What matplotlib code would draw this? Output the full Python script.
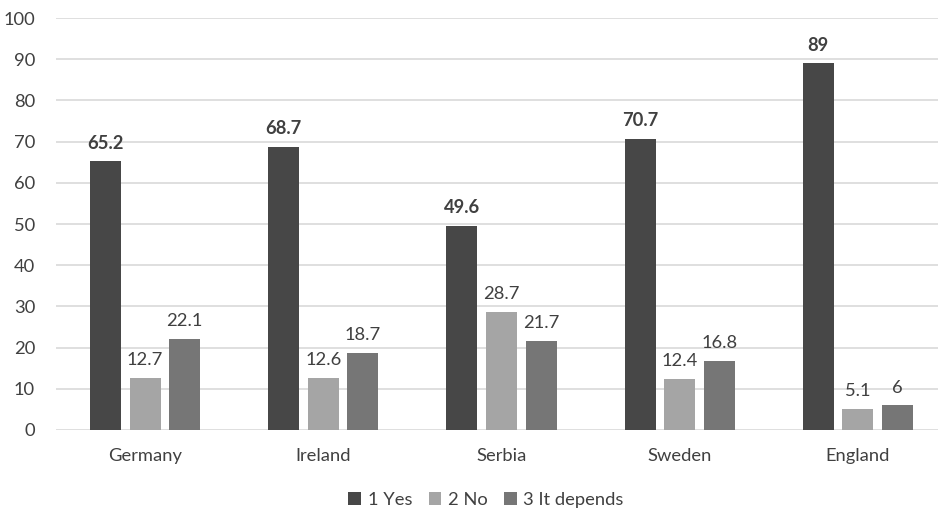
import matplotlib
matplotlib.use("Agg")
import matplotlib.pyplot as plt
import numpy as np

categories = ["Germany", "Ireland", "Serbia", "Sweden", "England"]
series_names = ["1 Yes", "2 No", "3 It depends"]
yes = [65.2, 68.7, 49.6, 70.7, 89]
no = [12.7, 12.6, 28.7, 12.4, 5.1]
depends = [22.1, 18.7, 21.7, 16.8, 6]
label_yes = ["65.2", "68.7", "49.6", "70.7", "89"]
label_no = ["12.7", "12.6", "28.7", "12.4", "5.1"]
label_dep = ["22.1", "18.7", "21.7", "16.8", "6"]
yticks = [0, 10, 20, 30, 40, 50, 60, 70, 80, 90, 100]

colors = ["#474747", "#a5a5a5", "#767676"]
text_color = "#404040"
plt.rcParams['font.family'] = ['Lato', 'DejaVu Sans']

W, H = 938, 511
fig = plt.figure(figsize=(W/100, H/100), dpi=100)
left, right = 56, 947
top, bottom = 18, 430
ax = fig.add_axes([left/W, 1 - bottom/H, (right-left)/W, (bottom-top)/H])

x = np.arange(len(categories))
step = 0.222
width = 0.174
fs = 13.2
series = [yes, no, depends]
labels = [label_yes, label_no, label_dep]
bars = []
for i, (vals, labs) in enumerate(zip(series, labels)):
    b = ax.bar(x + (i-1)*step, vals, width, color=colors[i], label=series_names[i], zorder=3)
    bars.append(b)
    for rect, lab in zip(b, labs):
        ax.annotate(lab, (rect.get_x()+rect.get_width()/2, rect.get_height()),
                    xytext=(0, 7), textcoords="offset points", ha="center", va="bottom",
                    fontsize=fs, color=text_color,
                    fontweight="bold" if i == 0 else "normal", zorder=4)

ax.set_xlim(-0.5, len(categories)-0.5)
ax.set_ylim(0, 100)
ax.set_yticks(yticks)
ax.set_yticklabels([str(t) for t in yticks])
ax.set_xticks(x)
ax.set_xticklabels(categories)
ax.tick_params(axis="both", length=0, labelsize=fs, colors=text_color)
ax.tick_params(axis="y", pad=15)
ax.tick_params(axis="x", pad=13)
ax.grid(axis="y", color="#d9d9d9", linewidth=1.2, zorder=0)
for s in ax.spines.values():
    s.set_visible(False)

leg = fig.legend(handles=bars, labels=series_names, loc="center", bbox_to_anchor=(486/W, 1-500/H),
                 ncol=3, frameon=False, fontsize=fs, handlelength=0.7, handleheight=0.7,
                 handletextpad=0.35, columnspacing=0.9, labelcolor=text_color)

fig.savefig("out.png", dpi=100)
